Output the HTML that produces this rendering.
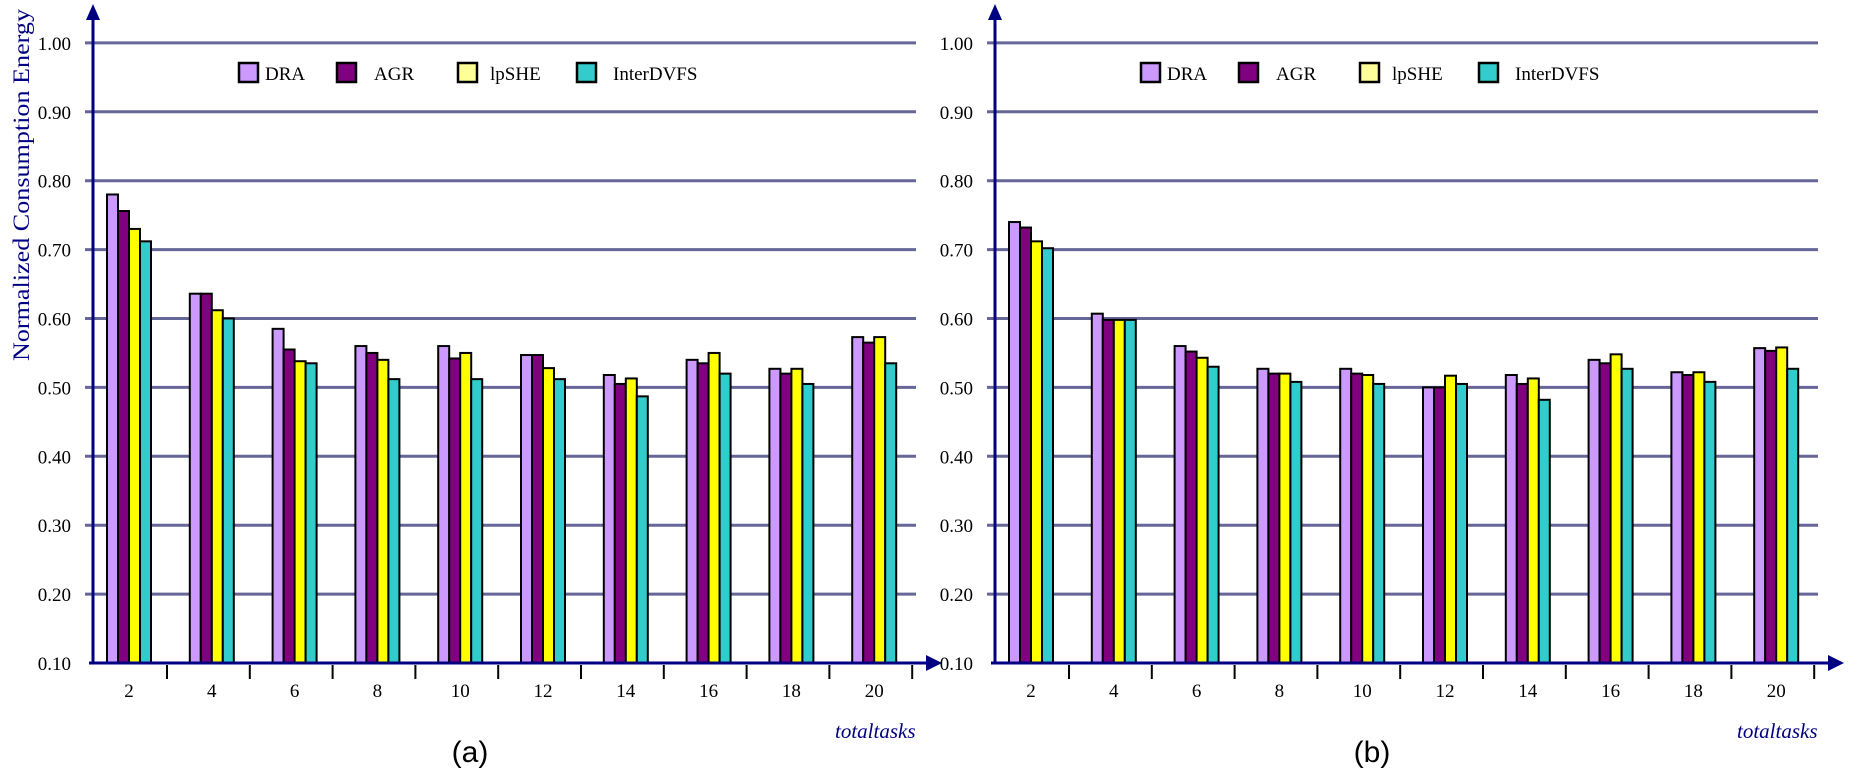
<!DOCTYPE html>
<html><head><meta charset="utf-8">
<style>
html,body{margin:0;padding:0;background:#fff;width:1856px;height:776px;overflow:hidden}
svg{display:block}
text{font-family:"Liberation Serif",serif}
</style></head>
<body>
<svg id="chart" width="1856" height="776" viewBox="0 0 1856 776" xmlns="http://www.w3.org/2000/svg"></svg>
<script>
const categories = ["2","4","6","8","10","12","14","16","18","20"];
const seriesNames = ["DRA","AGR","lpSHE","InterDVFS"];
const yTicks = [0.10,0.20,0.30,0.40,0.50,0.60,0.70,0.80,0.90,1.00];
const aDRA = [0.78,0.636,0.585,0.56,0.56,0.547,0.518,0.54,0.527,0.573];
const aAGR = [0.756,0.636,0.555,0.55,0.542,0.547,0.505,0.535,0.52,0.565];
const aLpSHE = [0.73,0.612,0.538,0.54,0.55,0.528,0.513,0.55,0.527,0.573];
const aInterDVFS = [0.712,0.60,0.535,0.512,0.512,0.512,0.487,0.52,0.505,0.535];
const bDRA = [0.74,0.607,0.56,0.527,0.527,0.50,0.518,0.54,0.522,0.557];
const bAGR = [0.732,0.598,0.552,0.52,0.52,0.50,0.505,0.535,0.518,0.553];
const bLpSHE = [0.712,0.598,0.543,0.52,0.518,0.517,0.513,0.548,0.522,0.558];
const bInterDVFS = [0.702,0.598,0.53,0.508,0.505,0.505,0.482,0.527,0.508,0.527];

const NS="http://www.w3.org/2000/svg";
const svg=document.getElementById('chart');
const colors=["#cc99ff","#800080","#ffff00","#33cccc"];
const legendColors=["#cc99ff","#800080","#ffff99","#33cccc"];
function mk(tag,attrs,parent){const e=document.createElementNS(NS,tag);for(const k in attrs)e.setAttribute(k,attrs[k]);(parent||svg).appendChild(e);return e;}

function drawPanel(ox, series, label, showTitle){
  const g=mk('g',{});
  
  
  const axX=93+ox, axY=663;
  const yScale=v=>axY-(v-0.1)/0.1*68.9;
  const xBand=i=>107+ox+i*82.8;
  yTicks.forEach(t=>{
    const y=yScale(t);
    if(t>0.1){const l=mk('line',{x1:axX-8,x2:916+ox,y1:y,y2:y,stroke:'#666699','stroke-width':3},g);
      
      }
    const tx=mk('text',{x:axX-22,y:y+7,'text-anchor':'end','font-size':19,fill:'#000'},g);
    tx.textContent=t.toFixed(2);
    
    
  });
  categories.forEach((c,i)=>{
    series.forEach((s,j)=>{
      const x=xBand(i)+j*11, y=yScale(s[i]);
      const r=mk('rect',{x:x,y:y,width:11,height:axY-y,fill:colors[j],stroke:'#000','stroke-width':2},g);
      
      
    });
    const tx=mk('text',{x:xBand(i)+22,y:697,'text-anchor':'middle','font-size':19},g);
    tx.textContent=c;
    
    
    const tk=mk('line',{x1:xBand(i)+60,x2:xBand(i)+60,y1:axY+2,y2:axY+16,stroke:'#000','stroke-width':2},g);
    
    
  });
  const ya=mk('line',{x1:axX,x2:axX,y1:axY,y2:18,stroke:'#000080','stroke-width':3},g);
  
  
  mk('polygon',{points:`${axX-7},20 ${axX+7},20 ${axX},4`,fill:'#000080'},g);
  const xa=mk('line',{x1:axX-4,x2:928+ox,y1:axY,y2:axY,stroke:'#000080','stroke-width':3},g);
  
  
  mk('polygon',{points:`${926+ox},${axY-8} ${926+ox},${axY+8} ${942+ox},${axY}`,fill:'#000080'},g);
  const lx=[239,337,458,577], tx=[265,374,490,613];
  seriesNames.forEach((n,j)=>{
    const r=mk('rect',{x:lx[j]+ox,y:63,width:19,height:19,fill:legendColors[j],stroke:'#000','stroke-width':2.5},g);
    
    
    const t=mk('text',{x:tx[j]+ox,y:80,'font-size':19},g);
    t.textContent=n;
    
    
  });
  const xt=mk('text',{x:835+ox,y:738,'font-size':21,'font-style':'italic',fill:'#000080'},g);
  xt.textContent='totaltasks';
  
  
  const cap=mk('text',{x:470+ox,y:762,'text-anchor':'middle','font-size':30,style:'font-family:"Liberation Sans",sans-serif'},g);
  cap.textContent='('+label+')';
  
  
  if(showTitle){
    const yt=mk('text',{x:0,y:0,'text-anchor':'middle','font-size':23,fill:'#000080',transform:'translate(29,185) rotate(-90)',textLength:352,lengthAdjust:'spacingAndGlyphs'},g);
    yt.textContent='Normalized Consumption Energy';
    
    
  }
}
drawPanel(0,[aDRA,aAGR,aLpSHE,aInterDVFS],'a',true);
drawPanel(902,[bDRA,bAGR,bLpSHE,bInterDVFS],'b',false);
</script>
</body></html>
